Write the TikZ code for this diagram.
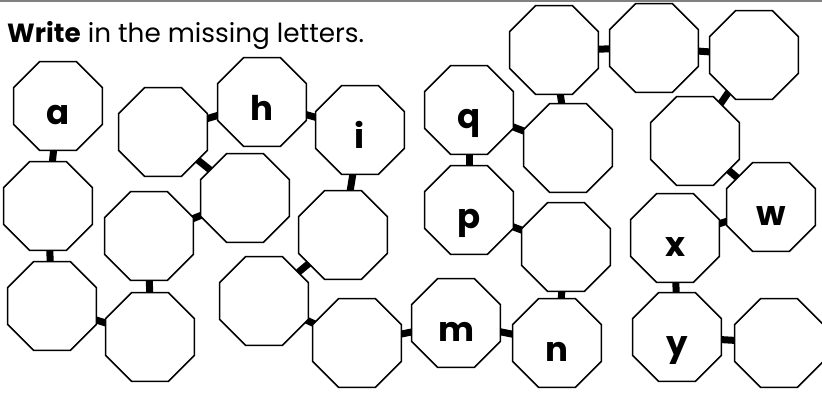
\documentclass[tikz,border=0pt]{standalone}
\usepackage{fontspec}
\setmainfont{Poppins}
\usetikzlibrary{shapes.geometric}
\pgfdeclarelayer{bg}
\pgfsetlayers{bg,main}
\tikzset{
  oct/.style={regular polygon, regular polygon sides=8,
    draw=black, fill=white,
    line width=1.5pt, minimum size=96pt, inner sep=0pt, outer sep=0pt,
    text height=37pt, text depth=0pt, font=\fontsize{34}{34}\selectfont\bfseries},
  bar/.style={line width=7pt, black},
  title/.style={anchor=base west, inner sep=0pt, font=\fontsize{26.3}{26.3}\selectfont}
}
\begin{document}
\begin{tikzpicture}[x=1pt,y=-1pt]
\useasboundingbox (0,0) rectangle (822,394);
\draw[line width=1.5pt, gray] (0,0.75) -- (822,0.75);
\node[title] (ttl) at (7,42) {\textbf{Write} in the missing letters.};
% octagons
\node[oct] (a)   at (58,106)  {a};
\node[oct] (b2)  at (48,206)  {};
\node[oct] (b3)  at (52,306)  {};
\node[oct] (b4)  at (150,337) {};
\node[oct] (b5)  at (149,236) {};
\node[oct] (b6)  at (163,132) {};
\node[oct] (h)   at (262,102) {h};
\node[oct] (b7)  at (245,198) {};
\node[oct] (i)   at (360,130) {i};
\node[oct] (b8)  at (343,235) {};
\node[oct] (b9)  at (264,301) {};
\node[oct] (b10) at (357,343) {};
\node[oct] (m)   at (456,323) {m};
\node[oct] (n)   at (557,343) {n};
\node[oct] (p)   at (469,210) {p};
\node[oct] (q)   at (469,110) {q};
\node[oct] (b11) at (568,148) {};
\node[oct] (b12) at (554,50)  {};
\node[oct] (b13) at (654,48)  {};
\node[oct] (b14) at (754,55)  {};
\node[oct] (b15) at (695,141) {};
\node[oct] (w)   at (771,207) {w};
\node[oct] (b16) at (566,247) {};
\node[oct] (x)   at (675,238) {x};
\node[oct] (y)   at (677,337) {y};
\node[oct] (b17) at (779,343) {};
% connectors
\begin{pgfonlayer}{bg}
\draw[bar] (a.center) -- (b2.center);
\draw[bar] (b2.center) -- (b3.center);
\draw[bar] (b3.center) -- (b4.center);
\draw[bar] (b4.center) -- (b5.center);
\draw[bar] (b5.center) -- (b7.center);
\draw[bar] (b6.center) -- (b7.center);
\draw[bar] (b6.center) -- (h.center);
\draw[bar] (h.center) -- (i.center);
\draw[bar] (i.center) -- (b8.center);
\draw[bar] (b8.center) -- (b9.center);
\draw[bar] (b9.center) -- (b10.center);
\draw[bar] (b10.center) -- (m.center);
\draw[bar] (m.center) -- (n.center);
\draw[bar] (n.center) -- (b16.center);
\draw[bar] (p.center) -- (b16.center);
\draw[bar] (q.center) -- (p.center);
\draw[bar] (q.center) -- (b11.center);
\draw[bar] (b11.center) -- (b12.center);
\draw[bar] (b12.center) -- (b13.center);
\draw[bar] (b13.center) -- (b14.center);
\draw[bar] (b14.center) -- (b15.center);
\draw[bar] (b15.center) -- (w.center);
\draw[bar] (x.center) -- (w.center);
\draw[bar] (x.center) -- (y.center);
\draw[bar] (y.center) -- (b17.center);
\end{pgfonlayer}
\end{tikzpicture}
\end{document}
